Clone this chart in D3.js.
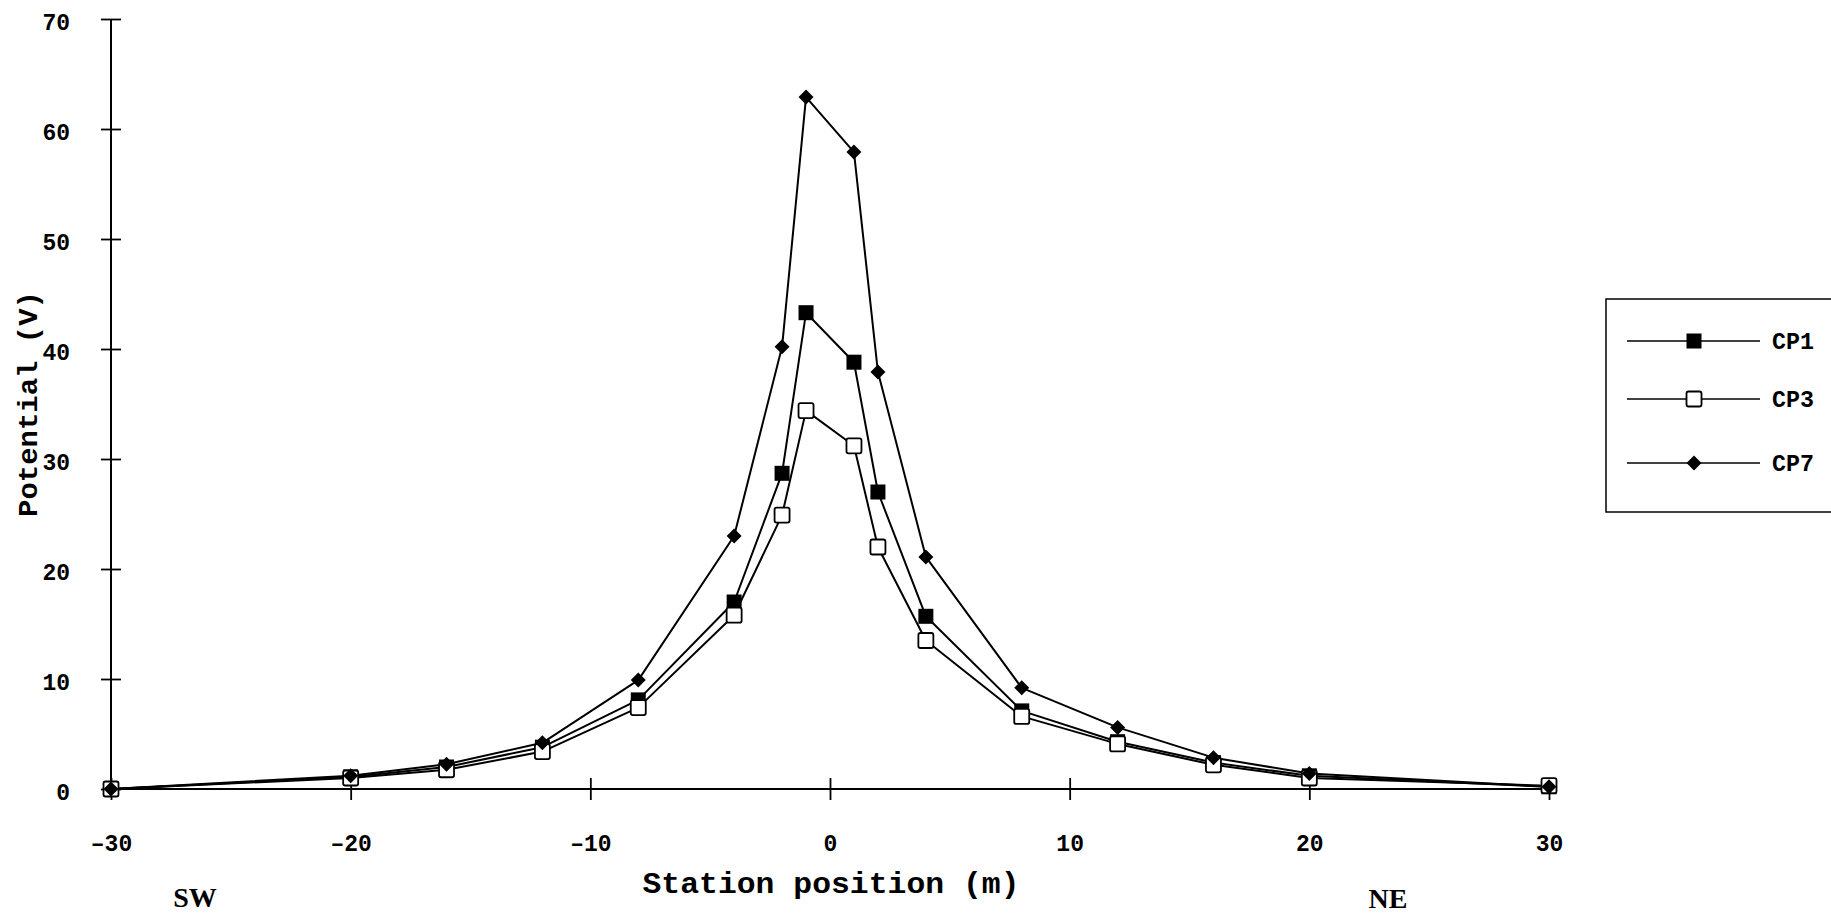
<!DOCTYPE html>
<html>
<head>
<meta charset="utf-8">
<script src="https://cdn.jsdelivr.net/npm/d3@7"></script>
<style>
  html, body { margin: 0; padding: 0; background: #fff; }
  svg { display: block; }
  text { fill: #000; }
</style>
</head>
<body>
<svg id="chart" width="1831" height="913"></svg>
<script>
// Station positions along the profile (m)
const stations = [-30, -20, -16, -12, -8, -4, -2, -1, 1, 2, 4, 8, 12, 16, 20, 30];

// Measured potential (V) for each current injection point
const cp1 = [0, 1.1, 2.0, 3.8, 8.1, 17.0, 28.7, 43.3, 38.8, 27.0, 15.7, 7.1, 4.3, 2.4, 1.2, 0.2];
const cp3 = [0, 1.0, 1.75, 3.4, 7.4, 15.8, 24.9, 34.4, 31.2, 22.0, 13.5, 6.6, 4.1, 2.2, 1.0, 0.3];
const cp7 = [0, 1.2, 2.25, 4.2, 9.9, 23.0, 40.2, 62.9, 57.9, 37.9, 21.1, 9.2, 5.6, 2.85, 1.4, 0.2];

const xTicks = [-30, -20, -10, 0, 10, 20, 30];
const yTicks = [0, 10, 20, 30, 40, 50, 60, 70];

const seriesNames = ["CP1", "CP3", "CP7"];
const seriesValues = [cp1, cp3, cp7];
const markerKinds = ["filledSquare", "openSquare", "diamond"];

const svg = d3.select("#chart");

const x = d3.scaleLinear().domain([-30, 30]).range([111, 1549]);
const y = d3.scaleLinear().domain([0, 70]).range([789, 19]);

const monoFont = "'Liberation Mono', 'Courier New', monospace";
const serifFont = "'Liberation Serif', 'Times New Roman', serif";

// ---- axes ----
const xAxis = svg.append("g")
  .attr("transform", `translate(0,${y(0)})`)
  .call(d3.axisBottom(x).tickValues(xTicks).tickSize(11)
    .tickFormat(d => d < 0 ? "\u2013" + Math.abs(d) : d));
xAxis.select(".domain").attr("d", `M${x(-30)},0H${x(30)}`).attr("stroke", "#000").attr("stroke-width", 2);
xAxis.selectAll(".tick line").attr("y1", -11).attr("y2", 11).attr("stroke-width", 1.8);
xAxis.selectAll(".tick text")
  .attr("font-family", monoFont).attr("font-weight", "bold").attr("font-size", 23)
  .attr("dy", "0.35em").attr("y", 54);

const yAxis = svg.append("g")
  .attr("transform", `translate(${x(-30)},0)`)
  .call(d3.axisLeft(y).tickValues(yTicks).tickSize(10).tickPadding(31));
yAxis.select(".domain").attr("d", `M0,${y(70)}V${y(0)}`).attr("stroke", "#000").attr("stroke-width", 2);
yAxis.selectAll(".tick line").attr("x1", -10).attr("x2", 10).attr("stroke-width", 1.8);
yAxis.selectAll(".tick text")
  .attr("font-family", monoFont).attr("font-weight", "bold").attr("font-size", 23)
  .attr("dy", "0.45em");

// ---- axis titles ----
svg.append("text")
  .attr("x", 831).attr("y", 893)
  .attr("text-anchor", "middle")
  .attr("font-family", monoFont).attr("font-weight", "bold").attr("font-size", 29)
  .attr("textLength", 377).attr("lengthAdjust", "spacingAndGlyphs")
  .text("Station position (m)");

svg.append("text")
  .attr("transform", `translate(37,${(y(0) + y(70)) / 2}) rotate(-90)`)
  .attr("text-anchor", "middle")
  .attr("font-family", monoFont).attr("font-weight", "bold").attr("font-size", 28)
  .attr("textLength", 226).attr("lengthAdjust", "spacingAndGlyphs")
  .text("Potential (V)");

svg.append("text")
  .attr("x", 195).attr("y", 907).attr("text-anchor", "middle")
  .attr("font-family", serifFont).attr("font-weight", "bold").attr("font-size", 28)
  .text("SW");

svg.append("text")
  .attr("x", 1388).attr("y", 908).attr("text-anchor", "middle")
  .attr("font-family", serifFont).attr("font-weight", "bold").attr("font-size", 28)
  .text("NE");

// ---- markers ----
function drawMarker(sel, kind) {
  if (kind === "filledSquare") {
    sel.append("rect").attr("x", -7.5).attr("y", -7.5).attr("width", 15).attr("height", 15)
      .attr("fill", "#000");
  } else if (kind === "openSquare") {
    sel.append("rect").attr("x", -7.5).attr("y", -7.5).attr("width", 15).attr("height", 15)
      .attr("rx", 2).attr("fill", "#fff").attr("stroke", "#000").attr("stroke-width", 1.8);
  } else {
    sel.append("path").attr("d", "M0,-7.5L7.5,0L0,7.5L-7.5,0Z").attr("fill", "#000");
  }
}

const line = d3.line().x(d => x(d[0])).y(d => y(d[1]));

// lines first, then markers on top (CP7 drawn last)
seriesValues.forEach(vals => {
  svg.append("path")
    .datum(stations.map((s, i) => [s, vals[i]]))
    .attr("d", line)
    .attr("fill", "none").attr("stroke", "#000").attr("stroke-width", 2)
    .attr("stroke-linejoin", "round");
});

seriesValues.forEach((vals, k) => {
  svg.append("g").selectAll("g")
    .data(stations.map((s, i) => [s, vals[i]]))
    .join("g")
    .attr("transform", d => `translate(${x(d[0])},${y(d[1])})`)
    .each(function () { drawMarker(d3.select(this), markerKinds[k]); });
});

// ---- legend ----
const legend = svg.append("g");
legend.append("rect")
  .attr("x", 1606).attr("y", 299).attr("width", 260).attr("height", 213)
  .attr("fill", "#fff").attr("stroke", "#000").attr("stroke-width", 1.5);

const legendY = [341, 399, 463];
seriesNames.forEach((name, k) => {
  const g = legend.append("g").attr("transform", `translate(0,${legendY[k]})`);
  g.append("line").attr("x1", 1627).attr("x2", 1760).attr("y1", 0).attr("y2", 0)
    .attr("stroke", "#000").attr("stroke-width", 1.4);
  const m = g.append("g").attr("transform", "translate(1694,0)");
  drawMarker(m, markerKinds[k]);
  g.append("text")
    .attr("x", 1772).attr("y", 0).attr("dy", "0.36em")
    .attr("font-family", monoFont).attr("font-weight", "bold").attr("font-size", 23)
    .attr("textLength", 42).attr("lengthAdjust", "spacingAndGlyphs")
    .text(name);
});
</script>
</body>
</html>
